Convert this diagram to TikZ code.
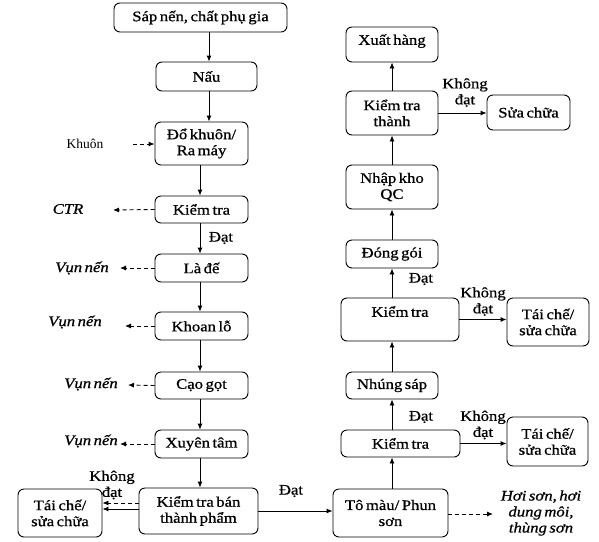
\documentclass[tikz,border=0pt]{standalone}
\usepackage{fontspec}
\setmainfont{Liberation Serif}[WordSpace=0.7]
\newfontfamily\bxfont{Liberation Serif}[WordSpace=0.6, FakeStretch=1.15, FakeBold=0.8]
\usetikzlibrary{arrows.meta}
\begin{document}
\begin{tikzpicture}[x=1pt,y=-1pt,
  box/.style={draw, rounded corners=6pt, line width=0.9pt, align=center, inner sep=0pt,
    font=\bxfont\fontsize{14.5}{16}\selectfont},
  arr/.style={line width=0.9pt, -{Latex[length=6pt,width=5pt]}},
  darr/.style={arr, dashed, dash pattern=on 4pt off 3pt},
  lbl/.style={align=center, inner sep=0pt, font=\bxfont\fontsize{14.5}{16}\selectfont},
  ilbl/.style={lbl, font=\bxfont\fontsize{14.5}{16}\selectfont\itshape},
]
\useasboundingbox (0,0) rectangle (599,541);
% left column
\node[box, minimum width=173pt, minimum height=29pt] (sap) at (200.5,17.5) {Sáp nến, chất phụ gia};
\node[box, minimum width=101pt, minimum height=29pt] (nau) at (206.5,76.5) {Nấu};
\node[box, minimum width=93pt, minimum height=43pt] (dokhuon) at (201.5,143.5) {Đổ khuôn/\\Ra máy};
\node[box, minimum width=93pt, minimum height=27pt] (kt1) at (201.5,209.5) {Kiểm tra};
\node[box, minimum width=93pt, minimum height=28pt] (lade) at (201.5,268) {Là đế};
\node[box, minimum width=93pt, minimum height=28pt] (khoan) at (201.5,326) {Khoan lỗ};
\node[box, minimum width=93pt, minimum height=27pt] (cao) at (201.5,385.5) {Cạo gọt};
\node[box, minimum width=93pt, minimum height=28pt] (xuyen) at (201.5,444) {Xuyên tâm};
\node[box, minimum width=119pt, minimum height=46pt] (ktbtp) at (198.5,511) {Kiểm tra bán\\thành phẩm};
\node[box, minimum width=84pt, minimum height=48pt] (taiche1) at (60,513) {Tái chế/\\sửa chữa};
% right column
\node[box, minimum width=115pt, minimum height=48pt] (tomau) at (390.5,513) {Tô màu/ Phun\\sơn};
\node[box, minimum width=119pt, minimum height=27pt] (kt3) at (400.5,443.5) {Kiểm tra};
\node[box, minimum width=81pt, minimum height=49pt] (taiche3) at (547.5,441.5) {Tái chế/\\sửa chữa};
\node[box, minimum width=92pt, minimum height=27pt] (nhung) at (392,385.5) {Nhúng sáp};
\node[box, minimum width=118pt, minimum height=43pt] (kt2) at (400,319.5) {Kiểm tra\\\mbox{}};
\node[box, minimum width=82pt, minimum height=48pt] (taiche2) at (548,322) {Tái chế/\\sửa chữa};
\node[box, minimum width=92pt, minimum height=28pt] (donggoi) at (392,254) {Đóng gói};
\node[box, minimum width=92pt, minimum height=44pt] (nhapkho) at (392,187) {Nhập kho\\QC};
\node[box, minimum width=92pt, minimum height=44pt] (ktthanh) at (392,113) {Kiểm tra\\thành};
\node[box, minimum width=92pt, minimum height=35pt] (xuat) at (392,44.5) {Xuất hàng\\[-6pt]\mbox{}};
\node[box, minimum width=83pt, minimum height=35pt] (suachua) at (528.5,112.5) {Sửa chữa};
% side labels
\node[lbl, font=\rmfamily\fontsize{13.5}{15}\selectfont] (khuon) at (85,144) {Khuôn};
\node[ilbl] (ctr) at (68,209) {CTR};
\node[ilbl] (vun1) at (82,268) {Vụn nến};
\node[ilbl] (vun2) at (75,322) {Vụn nến};
\node[ilbl] (vun3) at (91,384) {Vụn nến};
\node[ilbl] (vun4) at (91,441) {Vụn nến};
\node[ilbl] (hoison) at (541,513) {Hơi sơn, hơi\\dung môi,\\thùng sơn};
\node[lbl] (kd1) at (112,485) {Không\\đạt};
\node[lbl] (dat1) at (221,238) {Đạt};
\node[lbl] (dat2) at (291,491) {Đạt};
\node[lbl] (dat3) at (421,417) {Đạt};
\node[lbl] (dat4) at (421,279) {Đạt};
\node[lbl] (kd3) at (483,425) {Không\\đạt};
\node[lbl] (kd2) at (483,301.5) {Không\\đạt};
\node[lbl] (kd4) at (465,92.5) {Không\\đạt};
% free ends
\coordinate (ckhuon) at (133,144);
\coordinate (cctr) at (113,210);
\coordinate (cv1) at (120,268);
\coordinate (cv2) at (125,326);
\coordinate (cv3) at (128,385);
\coordinate (cv4) at (120,444);
\coordinate (chs) at (493,514);
% main flow
\draw[arr] (209,0 |- sap.south) -- (209,0 |- nau.north);
\draw[arr] (209,0 |- nau.south) -- (209,0 |- dokhuon.north);
\draw[arr] (200,0 |- dokhuon.south) -- (200,0 |- kt1.north);
\draw[arr] (200,0 |- kt1.south) -- (200,0 |- lade.north);
\draw[arr] (200,0 |- lade.south) -- (200,0 |- khoan.north);
\draw[arr] (200,0 |- khoan.south) -- (200,0 |- cao.north);
\draw[arr] (200,0 |- cao.south) -- (200,0 |- xuyen.north);
\draw[arr] (200,0 |- xuyen.south) -- (200,0 |- ktbtp.north);
\draw[arr] (ktbtp.east) -- (ktbtp.east -| tomau.west);
\draw[arr] (392,0 |- tomau.north) -- (392,0 |- kt3.south);
\draw[arr] (kt3.north -| nhung.south) -- (nhung.south);
\draw[arr] (nhung.north) -- (nhung.north |- kt2.south);
\draw[arr] (kt2.north -| donggoi.south) -- (donggoi.south);
\draw[arr] (donggoi.north) -- (nhapkho.south);
\draw[arr] (nhapkho.north) -- (ktthanh.south);
\draw[arr] (ktthanh.north) -- (xuat.south);
% side branches
\draw[arr] (ktthanh.east) -- (ktthanh.east -| suachua.west);
\draw[arr] (kt2.east) -- (kt2.east -| taiche2.west);
\draw[arr] (kt3.east) -- (kt3.east -| taiche3.west);
\draw[darr] (ktbtp.west |- 0,503) -- (taiche1.east |- 0,503);
\draw[arr] (ktbtp.west |- 0,509) -- (taiche1.east |- 0,509);
\draw[darr] (ckhuon) -- (ckhuon -| dokhuon.west);
\draw[darr] (kt1.west) -- (cctr);
\draw[darr] (lade.west) -- (cv1);
\draw[darr] (khoan.west) -- (cv2);
\draw[darr] (cao.west) -- (cv3);
\draw[darr] (xuyen.west) -- (cv4);
\draw[darr] (tomau.east |- chs) -- (chs);
\end{tikzpicture}
\end{document}
